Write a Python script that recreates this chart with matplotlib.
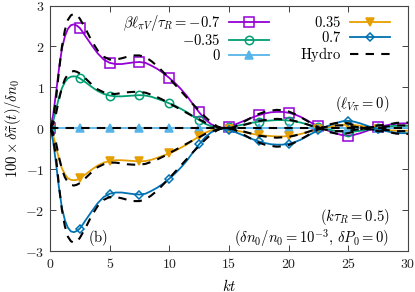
import numpy as np
import matplotlib
matplotlib.use("Agg")
import matplotlib.pyplot as plt
from matplotlib.ticker import FuncFormatter, MultipleLocator

plt.rcParams["mathtext.fontset"] = "cm"
plt.rcParams["font.family"] = "serif"
plt.rcParams["font.serif"] = ["DejaVu Serif"]
plt.rcParams["font.size"] = 9

# time grid (kt)
kt = [0, 0.25, 0.5, 0.75, 1.0, 1.25, 1.5, 1.75, 2.0, 2.25, 2.5, 2.75, 3.0,
      3.5, 4.0, 4.5, 5.0, 5.5, 6.0, 6.5, 7.0, 7.5, 8.0, 8.5, 9.0, 9.5, 10.0,
      10.5, 11.0, 11.5, 12.0, 12.5, 13.0, 13.5, 14.0, 14.5, 15.0, 15.5, 16.0,
      16.5, 17.0, 17.5, 18.0, 18.5, 19.0, 19.5, 20.0, 20.5, 21.0, 21.5, 22.0,
      22.5, 23.0, 23.5, 24.0, 24.5, 25.0, 25.5, 26.0, 26.5, 27.0, 27.5, 28.0,
      28.5, 29.0, 29.5, 30.0]

# kinetic results, beta*l_piV/tau_R = -0.7, -0.35, 0, 0.35, 0.7
kin_m07 = [0, 0.3, 0.85, 1.45, 1.95, 2.25, 2.43, 2.52, 2.54, 2.51, 2.45, 2.35, 2.24,
           2.03, 1.83, 1.68, 1.6, 1.57, 1.57, 1.59, 1.61, 1.62, 1.6, 1.53, 1.45, 1.35, 1.23,
           1.1, 0.95, 0.78, 0.58, 0.39, 0.22, 0.1, 0.03, 0.01, 0.04, 0.09, 0.15,
           0.21, 0.27, 0.32, 0.36, 0.39, 0.4, 0.4, 0.38, 0.34, 0.28, 0.2, 0.12,
           0.05, -0.02, -0.08, -0.13, -0.17, -0.18, -0.16, -0.12, -0.07, -0.02, 0.02, 0.06,
           0.09, 0.11, 0.12, 0.12]
kin_m035 = [0, 0.15, 0.45, 0.75, 0.98, 1.13, 1.22, 1.26, 1.27, 1.26, 1.22, 1.17, 1.12,
            1.01, 0.91, 0.84, 0.8, 0.78, 0.78, 0.79, 0.8, 0.81, 0.8, 0.77, 0.72, 0.67, 0.61,
            0.55, 0.47, 0.39, 0.29, 0.2, 0.11, 0.05, 0.02, 0.0, 0.02, 0.05, 0.08,
            0.11, 0.14, 0.16, 0.18, 0.19, 0.2, 0.2, 0.19, 0.17, 0.14, 0.1, 0.06,
            0.02, -0.01, -0.04, -0.07, -0.08, -0.09, -0.08, -0.06, -0.04, -0.01, 0.01, 0.03,
            0.05, 0.06, 0.06, 0.06]
kin_0 = [0.0] * len(kt)
kin_p035 = [0, -0.15, -0.45, -0.75, -0.98, -1.13, -1.22, -1.26, -1.27, -1.26, -1.22, -1.17, -1.12,
            -1.01, -0.91, -0.84, -0.8, -0.78, -0.78, -0.79, -0.8, -0.81, -0.8, -0.77, -0.72, -0.67, -0.61,
            -0.55, -0.47, -0.39, -0.29, -0.2, -0.11, -0.05, -0.02, 0.0, -0.02, -0.05, -0.08,
            -0.11, -0.14, -0.16, -0.18, -0.19, -0.2, -0.2, -0.19, -0.17, -0.14, -0.1, -0.06,
            -0.02, 0.01, 0.04, 0.07, 0.08, 0.09, 0.08, 0.06, 0.04, 0.01, -0.01, -0.03,
            -0.05, -0.06, -0.06, -0.06]
kin_p07 = [0, -0.3, -0.85, -1.45, -1.95, -2.25, -2.43, -2.52, -2.54, -2.51, -2.45, -2.35, -2.24,
           -2.03, -1.83, -1.68, -1.6, -1.57, -1.57, -1.59, -1.61, -1.62, -1.6, -1.53, -1.45, -1.35, -1.23,
           -1.1, -0.95, -0.78, -0.58, -0.39, -0.22, -0.1, -0.03, -0.01, -0.04, -0.09, -0.15,
           -0.21, -0.27, -0.32, -0.36, -0.39, -0.4, -0.4, -0.38, -0.34, -0.28, -0.2, -0.12,
           -0.05, 0.02, 0.08, 0.13, 0.17, 0.18, 0.16, 0.12, 0.07, 0.02, -0.02, -0.06,
           -0.09, -0.11, -0.12, -0.12]

# hydrodynamic results for the same parameters
hyd_m07 = [0, 0.2, 0.7, 1.4, 2.0, 2.4, 2.65, 2.76, 2.8, 2.77, 2.68, 2.55, 2.42,
           2.13, 1.9, 1.75, 1.68, 1.68, 1.71, 1.75, 1.78, 1.78, 1.74, 1.64, 1.52, 1.37, 1.22,
           1.06, 0.9, 0.74, 0.58, 0.43, 0.28, 0.15, 0.05, -0.01, -0.01, 0.04, 0.12,
           0.2, 0.28, 0.35, 0.4, 0.43, 0.45, 0.44, 0.41, 0.35, 0.27, 0.19, 0.1,
           0.02, -0.05, -0.1, -0.13, -0.14, -0.12, -0.08, -0.03, 0.02, 0.05, 0.07, 0.08,
           0.1, 0.13, 0.14, 0.14]
hyd_m035 = [0, 0.1, 0.35, 0.7, 1.0, 1.2, 1.32, 1.38, 1.4, 1.38, 1.34, 1.28, 1.21,
            1.07, 0.95, 0.88, 0.84, 0.84, 0.86, 0.88, 0.89, 0.89, 0.87, 0.82, 0.76, 0.69, 0.61,
            0.53, 0.45, 0.37, 0.29, 0.22, 0.14, 0.08, 0.03, 0.0, 0.0, 0.02, 0.06,
            0.1, 0.14, 0.18, 0.2, 0.22, 0.23, 0.22, 0.21, 0.18, 0.14, 0.1, 0.05,
            0.01, -0.03, -0.05, -0.07, -0.07, -0.06, -0.04, -0.02, 0.01, 0.03, 0.04, 0.04,
            0.05, 0.07, 0.07, 0.07]
hyd_0 = [0.0] * len(kt)
hyd_p035 = [0, -0.1, -0.35, -0.7, -1.0, -1.2, -1.32, -1.38, -1.4, -1.38, -1.34, -1.28, -1.21,
            -1.07, -0.95, -0.88, -0.84, -0.84, -0.86, -0.88, -0.89, -0.89, -0.87, -0.82, -0.76, -0.69, -0.61,
            -0.53, -0.45, -0.37, -0.29, -0.22, -0.14, -0.08, -0.03, 0.0, 0.0, -0.02, -0.06,
            -0.1, -0.14, -0.18, -0.2, -0.22, -0.23, -0.22, -0.21, -0.18, -0.14, -0.1, -0.05,
            -0.01, 0.03, 0.05, 0.07, 0.07, 0.06, 0.04, 0.02, -0.01, -0.03, -0.04, -0.04,
            -0.05, -0.07, -0.07, -0.07]
hyd_p07 = [0, -0.2, -0.7, -1.4, -2.0, -2.4, -2.65, -2.76, -2.8, -2.77, -2.68, -2.55, -2.42,
           -2.13, -1.9, -1.75, -1.68, -1.68, -1.71, -1.75, -1.78, -1.78, -1.74, -1.64, -1.52, -1.37, -1.22,
           -1.06, -0.9, -0.74, -0.58, -0.43, -0.28, -0.15, -0.05, 0.01, 0.01, -0.04, -0.12,
           -0.2, -0.28, -0.35, -0.4, -0.43, -0.45, -0.44, -0.41, -0.35, -0.27, -0.19, -0.1,
           -0.02, 0.05, 0.1, 0.13, 0.14, 0.12, 0.08, 0.03, -0.02, -0.05, -0.07, -0.08,
           -0.1, -0.13, -0.14, -0.14]

labels = [r"$\beta\ell_{\pi V}/\tau_R=-0.7$", r"$-0.35$", r"$0$", r"$0.35$", r"$0.7$"]
colors = ["#9400d3", "#009e73", "#56b4e9", "#e69f00", "#0072b2"]
markers = ["s", "o", "^", "v", "D"]
msizes = [6.5, 6, 6, 6, 4.5]
filled = [False, False, True, True, False]

kin = [kin_m07, kin_m035, kin_0, kin_p035, kin_p07]
hyd = [hyd_m07, hyd_m035, hyd_0, hyd_p035, hyd_p07]

# markers every 2.5 in kt
mark_idx = [i for i, t in enumerate(kt) if t % 2.5 == 0 and t < 30]

fig = plt.figure(figsize=(4.15, 2.92), dpi=100)
ax = fig.add_axes([0.1205, 0.1404, 0.8625, 0.8406])

handles = []
for y, lab, c, m, ms, f in zip(kin, labels, colors, markers, msizes, filled):
    h, = ax.plot(kt, y, color=c, lw=1.3, marker=m, ms=ms,
                 markevery=mark_idx, mfc=c if f else "none", mec=c, mew=1.1,
                 label=lab, zorder=2)
    handles.append(h)

for y in hyd:
    hh, = ax.plot(kt, y, color="black", lw=1.5, ls=(0, (4, 3.5)), zorder=3)
hh.set_label(r"$\mathrm{Hydro}$")
handles.append(hh)

ax.set_xlim(0, 30)
ax.set_ylim(-3, 3)
ax.xaxis.set_major_locator(MultipleLocator(5))
ax.yaxis.set_major_locator(MultipleLocator(1))
fmt = FuncFormatter(lambda v, p: r"$%g$" % v)
ax.xaxis.set_major_formatter(fmt)
ax.yaxis.set_major_formatter(fmt)
ax.tick_params(direction="in", top=True, right=True, length=4, width=0.6,
               labelsize=10, colors="#222222", pad=4)
for s in ax.spines.values():
    s.set_linewidth(0.8)
    s.set_color("#444444")

ax.set_xlabel(r"$kt$", fontsize=10.5, labelpad=5)
ax.set_ylabel(r"$100\times\delta\tilde{\pi}(t)/\delta n_0$", fontsize=10.5, labelpad=2)

ax.legend(handles=handles, ncol=2, loc="upper right", frameon=False,
          markerfirst=False, handlelength=2.75, handletextpad=0.6,
          columnspacing=2.1, labelspacing=0.0, fontsize=10.5,
          borderaxespad=0.2, bbox_to_anchor=(0.975, 1.005))

ax.text(0.948, 0.60, r"$(\ell_{V\pi}=0)$", transform=ax.transAxes,
        ha="right", va="center", fontsize=10.5)
ax.text(0.948, 0.138, r"$(k\tau_R=0.5)$", transform=ax.transAxes,
        ha="right", va="center", fontsize=10.5)
ax.text(0.948, 0.053, r"$(\delta n_0/n_0=10^{-3},\,\delta P_0=0)$",
        transform=ax.transAxes, ha="right", va="center", fontsize=10.5)
ax.text(0.105, 0.053, r"$\mathrm{(b)}$", transform=ax.transAxes, ha="left",
        va="center", fontsize=10.5)

fig.savefig("out.png", dpi=100)
